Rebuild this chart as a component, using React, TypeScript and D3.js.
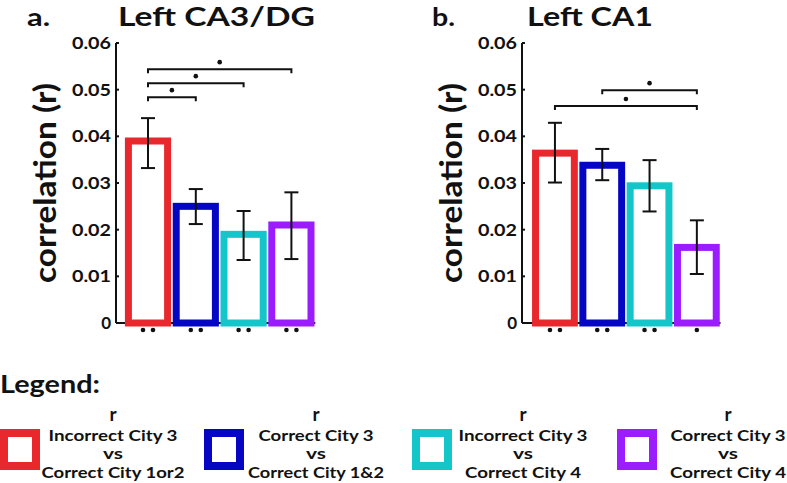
import React from 'react'
import * as d3 from 'd3'

// conditions shown in both panels
const conditions = [
    'Incorrect City 3 vs Correct City 1or2',
    'Correct City 3 vs Correct City 1&2',
    'Incorrect City 3 vs Correct City 4',
    'Correct City 3 vs Correct City 4',
]
const legendLines = [
    ['Incorrect City 3', 'vs', 'Correct City 1or2'],
    ['Correct City 3', 'vs', 'Correct City 1&2'],
    ['Incorrect City 3', 'vs', 'Correct City 4'],
    ['Correct City 3', 'vs', 'Correct City 4'],
]
const colors = ['#e8282c', '#0505c4', '#14c6ca', '#9a1cff']

// Left CA3/DG
const ca3Mean = [0.039, 0.025, 0.019, 0.021]
const ca3Low = [0.0332, 0.0212, 0.0135, 0.0137]
const ca3High = [0.0439, 0.0287, 0.024, 0.028]
const ca3Stars = [2, 2, 2, 2]
const ca3Brackets = [
    { from: 0, to: 1, level: 0.0484 },
    { from: 0, to: 2, level: 0.0514 },
    { from: 0, to: 3, level: 0.0544 },
]

// Left CA1
const ca1Mean = [0.0364, 0.0338, 0.0294, 0.0162]
const ca1Low = [0.0301, 0.0306, 0.0239, 0.0105]
const ca1High = [0.0429, 0.0373, 0.0349, 0.022]
const ca1Stars = [2, 2, 2, 1]
const ca1Brackets = [
    { from: 0, to: 3, level: 0.0465 },
    { from: 1, to: 3, level: 0.0499 },
]

const yTicks = [0, 0.01, 0.02, 0.03, 0.04, 0.05, 0.06]

const FONT = "'Lato', 'DejaVu Sans', sans-serif"
const INK = '#111'

type Bracket = { from: number; to: number; level: number }

const Panel = ({
    letter,
    title,
    axisX,
    x0,
    x1,
    mean,
    low,
    high,
    stars,
    brackets,
    letterX,
    letterW,
    titleX,
    titleW,
}: {
    letter: string
    title: string
    axisX: number
    x0: number
    x1: number
    mean: number[]
    low: number[]
    high: number[]
    stars: number[]
    brackets: Bracket[]
    letterX: number
    letterW: number
    titleX: number
    titleW: number
}) => {
    const y = d3.scaleLinear().domain([0, 0.06]).range([323, 43])
    const x = d3
        .scaleBand<number>()
        .domain(d3.range(mean.length))
        .range([x0, x1])
        .paddingInner(0.18)
        .paddingOuter(0.09)
    const bw = x.bandwidth()
    const cx = (i: number) => (x(i) as number) + bw / 2

    return (
        <g>
            <text x={letterX} y={26} fontFamily={FONT} fontWeight={700} fontSize={25} fill={INK}
                textLength={letterW} lengthAdjust='spacingAndGlyphs'>{letter}</text>
            <text x={titleX} y={26} fontFamily={FONT} fontWeight={700} fontSize={26} fill={INK}
                textLength={titleW} lengthAdjust='spacingAndGlyphs'>{title}</text>

            {/* y label */}
            <text transform={`translate(${axisX - 60},183) rotate(-90)`} textAnchor='middle'
                fontFamily={FONT} fontWeight={700} fontSize={30} fill={INK}
                textLength={200} lengthAdjust='spacingAndGlyphs'>correlation (r)</text>

            {/* y axis */}
            <line x1={axisX} x2={axisX} y1={y(0.06)} y2={y(0)} stroke={INK} strokeWidth={2} />
            <line x1={axisX} x2={x1} y1={y(0)} y2={y(0)} stroke={INK} strokeWidth={2} />
            {yTicks.map(t => (
                <g key={t}>
                    <line x1={axisX} x2={axisX + 3} y1={y(t)} y2={y(t)} stroke={INK} strokeWidth={2} />
                    <text x={axisX - 5} y={y(t) + 6} textAnchor='end' fontFamily={FONT} fontWeight={700}
                        fontSize={17} fill={INK}
                        textLength={t === 0 ? undefined : 39} lengthAdjust='spacingAndGlyphs'>
                        {t === 0 ? '0' : d3.format('.2f')(t)}
                    </text>
                </g>
            ))}

            {/* bars */}
            {mean.map((v, i) => (
                <rect key={i} x={x(i)} y={y(v)} width={bw} height={y(0) - y(v)}
                    fill='white' stroke={colors[i]} strokeWidth={7} />
            ))}

            {/* error bars */}
            {mean.map((_, i) => (
                <g key={i} stroke={INK} strokeWidth={2}>
                    <line x1={cx(i)} x2={cx(i)} y1={y(high[i])} y2={y(low[i])} />
                    <line x1={cx(i) - 7} x2={cx(i) + 7} y1={y(high[i])} y2={y(high[i])} />
                    <line x1={cx(i) - 7} x2={cx(i) + 7} y1={y(low[i])} y2={y(low[i])} />
                </g>
            ))}

            {/* significance vs zero */}
            {stars.map((n, i) =>
                d3.range(n).map(k => (
                    <circle key={`${i}-${k}`} cx={cx(i) + (n === 1 ? 0 : k === 0 ? -5 : 5)} cy={330}
                        r={2.3} fill={INK} />
                ))
            )}

            {/* pairwise brackets */}
            {brackets.map((b, j) => {
                const yb = y(b.level)
                const a = cx(b.from)
                const c = cx(b.to)
                return (
                    <g key={j}>
                        <path d={`M${a},${yb + 4}V${yb}H${c}V${yb + 4}`} fill='none' stroke={INK}
                            strokeWidth={2} />
                        <circle cx={(a + c) / 2} cy={yb - 7} r={2.3} fill={INK} />
                    </g>
                )
            })}
        </g>
    )
}

const legendBoxX = [0, 204, 412, 617]
const legendTextX = [113, 316, 523, 728]
const legendBaselines = [441, 459, 477.5]
const legendWidths = [
    [129, 20, 143],
    [115, 20, 136],
    [129, 20, 116],
    [115, 20, 116],
]

const App = () => {
    return (
        <div style={{ position: 'fixed', left: 0, top: 0, background: 'white' }}>
            <svg width={787} height={483} style={{ display: 'block' }}>
                <rect width={787} height={483} fill='white' />
                <Panel letter='a.' title='Left CA3/DG' axisX={116} x0={124.1} x1={315.3}
                    mean={ca3Mean} low={ca3Low} high={ca3High} stars={ca3Stars} brackets={ca3Brackets}
                    letterX={27} letterW={23} titleX={118} titleW={197} />
                <Panel letter='b.' title='Left CA1' axisX={522} x0={531.3} x1={720.5}
                    mean={ca1Mean} low={ca1Low} high={ca1High} stars={ca1Stars} brackets={ca1Brackets}
                    letterX={432} letterW={23} titleX={527} titleW={126} />

                <text x={0} y={393} fontFamily={FONT} fontWeight={700} fontSize={25} fill={INK}
                    textLength={100} lengthAdjust='spacingAndGlyphs'>Legend:</text>

                {conditions.map((c, i) => (
                    <g key={c}>
                        <rect x={legendBoxX[i] + 4} y={433} width={32} height={33} fill='white'
                            stroke={colors[i]} strokeWidth={8} />
                        <text x={legendTextX[i]} y={421} textAnchor='middle' fontFamily={FONT}
                            fontWeight={700} fontSize={19} fill={INK}>r</text>
                        {legendLines[i].map((s, k) => (
                            <text key={k} x={legendTextX[i]} y={legendBaselines[k]}
                                textAnchor='middle' fontFamily={FONT} fontWeight={700} fontSize={15}
                                fill={INK}
                                textLength={legendWidths[i][k]} lengthAdjust='spacingAndGlyphs'>{s}</text>
                        ))}
                    </g>
                ))}
            </svg>
        </div>
    )
}

export default App
